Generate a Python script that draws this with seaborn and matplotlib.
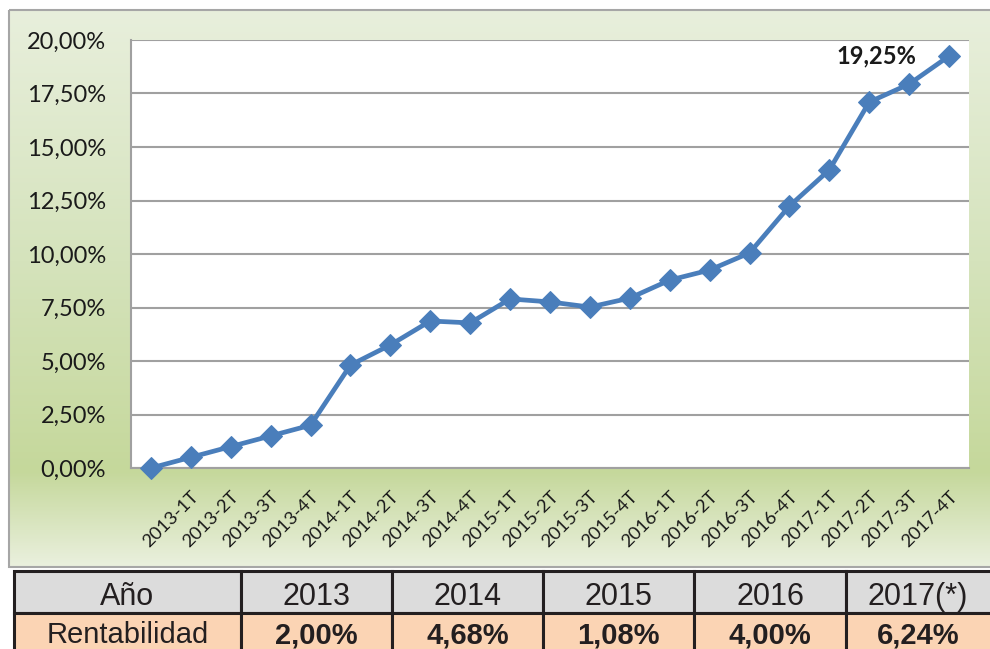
import numpy as np
import matplotlib
matplotlib.use("Agg")
import matplotlib.pyplot as plt
from matplotlib.colors import LinearSegmentedColormap
from matplotlib.patches import Rectangle
from matplotlib.ticker import FuncFormatter
import pandas as pd
import seaborn as sns

# datos acumulados por trimestre (primer punto = origen sin etiqueta)
trimestres = ["", "2013-1T", "2013-2T", "2013-3T", "2013-4T",
              "2014-1T", "2014-2T", "2014-3T", "2014-4T",
              "2015-1T", "2015-2T", "2015-3T", "2015-4T",
              "2016-1T", "2016-2T", "2016-3T", "2016-4T",
              "2017-1T", "2017-2T", "2017-3T", "2017-4T"]
rent_acum = [0.00, 0.50, 1.00, 1.50, 2.00,
             4.81, 5.75, 6.87, 6.78,
             7.90, 7.76, 7.52, 7.94,
             8.78, 9.25, 10.05, 12.24,
             13.93, 17.10, 17.94, 19.25]

# tabla inferior
anios = ["Año", "2013", "2014", "2015", "2016", "2017(*)"]
rent_anual = ["Rentabilidad", "2,00%", "4,68%", "1,08%", "4,00%", "6,24%"]

df = pd.DataFrame({"pos": np.arange(len(trimestres)), "rent": rent_acum})

sns.set_theme(style="white")
plt.rcParams["font.family"] = ["Lato", "DejaVu Sans"]

W, H = 990, 649
fig = plt.figure(figsize=(9.9, 6.49), dpi=100)

# fondo degradado del área del gráfico
bg = fig.add_axes([0, 0, 1, 1], zorder=-2)
bg.set_xlim(0, W)
bg.set_ylim(H, 0)
bg.axis("off")
cmap = LinearSegmentedColormap.from_list(
    "verde", [(0.0, "#e8efdc"), (0.45, "#d5e3bc"), (0.83, "#c5d89b"), (1.0, "#eaf0de")])
grad = np.linspace(0, 1, 256).reshape(-1, 1)
bg.imshow(grad, cmap=cmap, extent=[9, 1000, 567, 10], aspect="auto", zorder=0)
bg.add_patch(Rectangle((9, 10), 991, 557, fill=False, ec="#a6a6a6", lw=1.5, zorder=1))

# gráfico de línea
ax = fig.add_axes([131 / W, 1 - 468 / H, (969 - 131) / W, (468 - 40) / H])
ax.set_facecolor("white")
sns.lineplot(data=df, x="pos", y="rent", ax=ax, color="#4a7ebb", lw=3.4,
             marker="D", markersize=11, markeredgecolor="#4a7ebb", clip_on=False, zorder=5)

ax.set_xlim(-0.5, len(trimestres) - 0.5)
ax.set_ylim(0, 20)
ax.set_yticks(np.arange(0, 20.01, 2.5))
ax.yaxis.set_major_formatter(FuncFormatter(lambda v, p: f"{v:.2f}%".replace(".", ",")))
ax.set_xticks(df["pos"])
ax.set_xticklabels(trimestres, rotation=45, ha="right", rotation_mode="anchor")
ax.tick_params(axis="y", length=0, pad=18, labelsize=17, labelcolor="#1a1a1a")
ax.tick_params(axis="x", length=0, pad=15, labelsize=13.3, labelcolor="#1a1a1a")
ax.grid(axis="y", color="#a0a0a0", lw=1.5)
ax.set_axisbelow(True)
ax.set_xlabel("")
ax.set_ylabel("")
for s in ["top", "right"]:
    ax.spines[s].set_visible(False)
for s in ["left", "bottom"]:
    ax.spines[s].set_color("#a0a0a0")
    ax.spines[s].set_linewidth(1.5)

ax.annotate("19,25%", xy=(df["pos"].iloc[-1], rent_acum[-1]), xytext=(-52.5, 0),
            textcoords="offset points", ha="center", va="center",
            fontsize=17, fontweight="bold", color="#1a1a1a")

# tabla
tb = fig.add_axes([0, 0, 1, 1], zorder=3)
tb.set_xlim(0, W)
tb.set_ylim(H, 0)
tb.axis("off")
cols = [14, 241, 392, 543, 694, 846, 1010]
rows = [571, 613, 660]
fills = ["#dcdcdc", "#fbd4b4"]
baselines = [605, 643]
for r, (vals, fc) in enumerate(zip([anios, rent_anual], fills)):
    for c in range(len(vals)):
        x0, x1 = cols[c], cols[c + 1]
        y0, y1 = rows[r], rows[r + 1]
        tb.add_patch(Rectangle((x0, y0), x1 - x0, y1 - y0, fc=fc, ec="#231f20", lw=2.2))
        bold = (r == 1 and c > 0)
        xc = (x0 + min(x1, 990)) / 2 if c == 5 else (x0 + x1) / 2
        tb.text(xc, baselines[r], vals[c],
                ha="center", va="baseline", fontsize=22 if r == 0 else 21,
                fontweight="bold" if bold else "normal",
                family=["Liberation Sans", "DejaVu Sans"], color="#231f20")

fig.savefig("out.png", dpi=100)
